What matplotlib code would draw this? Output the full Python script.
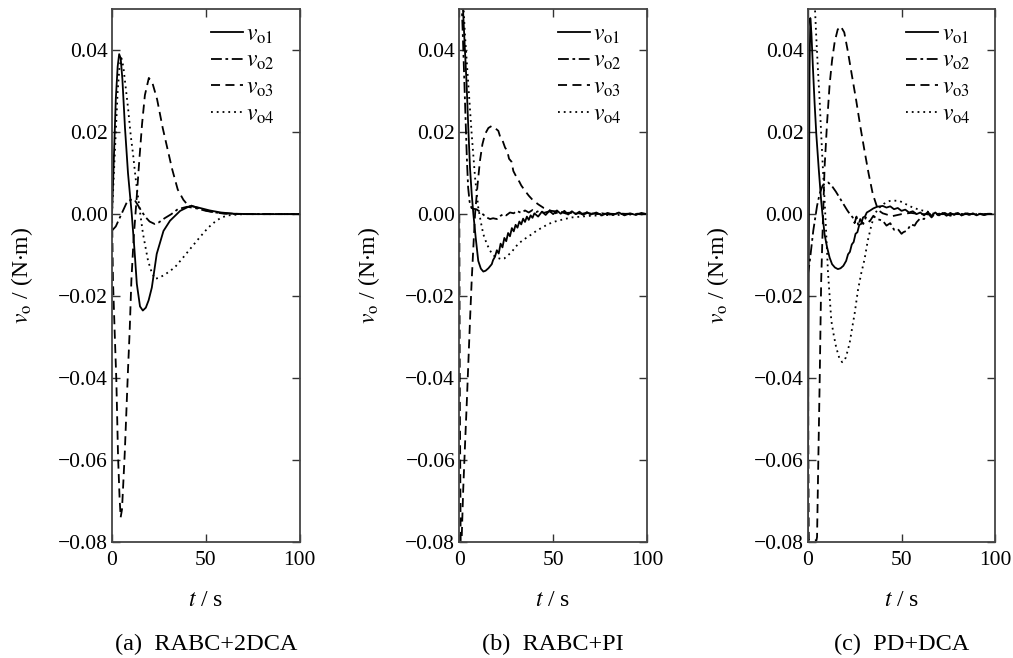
import numpy as np
import matplotlib
matplotlib.use('Agg')
import matplotlib.pyplot as plt

plt.rcParams['font.family'] = ['Liberation Serif', 'DejaVu Serif']
plt.rcParams['mathtext.fontset'] = 'stix'
plt.rcParams['axes.unicode_minus'] = True

# ---- (a) RABC+2DCA ----
ta1 = [0, 1, 2, 3, 3.8, 4.6, 5.5, 6.9, 8.5, 10.5, 12, 13.2, 14.9, 16.4, 18, 19.5, 21.2, 23.8, 27.4, 30.9, 36.3, 41.6, 46, 52, 58, 65, 75, 100]
va1 = [0, 0.014, 0.028, 0.036, 0.039, 0.038, 0.033, 0.021, 0.010, 0.0, -0.009, -0.017, -0.0225, -0.0235, -0.0228, -0.021, -0.0179, -0.0097, -0.0041, -0.0016, 0.0008, 0.002, 0.0016, 0.0009, 0.0004, 0.0001, 0, 0]
ta2 = [0, 2, 4, 6, 8, 10, 12, 14, 16, 18, 20, 22.7, 25, 28, 31.6, 35, 40, 45, 50, 55, 60, 70, 100]
va2 = [-0.004, -0.003, -0.001, 0.001, 0.003, 0.0035, 0.0035, 0.002, 0.0005, -0.0008, -0.0018, -0.0024, -0.002, -0.001, 0.0, 0.0012, 0.0018, 0.0014, 0.0008, 0.0004, 0.0002, 0, 0]
ta3 = [0, 0.5, 1.5, 2.3, 3.2, 4.0, 4.6, 5.3, 5.9, 6.8, 7.6, 8.5, 9.4, 10.3, 11.5, 13, 14.5, 16, 17.5, 19.6, 21.5, 24, 27, 29, 32, 35, 38, 40, 44, 50, 55, 60, 70, 100]
va3 = [0, -0.0162, -0.03, -0.0406, -0.059, -0.069, -0.0739, -0.072, -0.0665, -0.058, -0.0486, -0.038, -0.0284, -0.0162, -0.006, 0.0032, 0.013, 0.022, 0.029, 0.0332, 0.032, 0.028, 0.021, 0.017, 0.011, 0.006, 0.0035, 0.0024, 0.0018, 0.0009, 0.0004, 0.0001, 0, 0]
ta4 = [0, 1, 2, 3, 4, 5, 6, 7, 8.5, 10, 11.2, 12.5, 13.9, 15.2, 16.5, 17.8, 19.2, 21, 22.9, 25, 28, 33.4, 38, 42.3, 47, 51.2, 55, 58.3, 62, 70, 100]
va4 = [0, 0.01, 0.02, 0.03, 0.036, 0.038, 0.036, 0.032, 0.026, 0.019, 0.0146, 0.009, 0.004, -0.0005, -0.0048, -0.008, -0.0114, -0.014, -0.0158, -0.0155, -0.0148, -0.013, -0.0105, -0.0081, -0.0055, -0.0033, -0.0018, -0.0008, -0.0003, 0, 0]

# ---- (b) RABC+PI ----
tb1 = [0, 1, 2.1, 3, 3.9, 4.8, 5.7, 6.6, 7.5, 8.8, 10.1, 11.5, 12.8, 14, 15.5, 17.3, 18, 19, 20, 21, 22, 23, 24, 25, 26, 27, 28, 29, 30, 31, 32, 33, 34, 35, 36, 37, 38, 39, 40,
       42, 44, 46, 48, 50, 52, 54, 56, 58, 60, 62, 64, 66, 68, 70, 73, 76, 79, 82, 85, 88, 91, 94, 97, 100]
vb1 = [0.07, 0.06, 0.0487, 0.04, 0.0316, 0.021, 0.0113, 0.005, 0.0, -0.006, -0.0114, -0.0133, -0.014, -0.0138, -0.0132, -0.0122, -0.0112, -0.0104, -0.0088, -0.0096, -0.0072, -0.0081, -0.0058, -0.0066, -0.0046, -0.0054, -0.0034, -0.0042, -0.0026, -0.0033, -0.0018, -0.0025, -0.0011, -0.0019, -0.0006, -0.0014, -0.0003, -0.0009, 0.0002,
       -0.0006, 0.0006, -0.0002, 0.0008, 0.0, 0.0009, 0.0001, 0.0008, -0.0001, 0.0007, 0.0, 0.0006, -0.0002, 0.0005, -0.0001, 0.0004, -0.0003, 0.0003, -0.0002, 0.0004, -0.0003, 0.0002, -0.0002, 0.0003, 0.0]
tb2 = [0, 1, 2, 3, 4, 4.7, 5.5, 6.5, 7.5, 9, 11, 13, 14.5, 16.4, 18, 20, 22, 23.5, 25, 27, 29, 30.6, 33, 35, 37, 39, 41, 43, 45, 48, 51, 54, 57, 60, 64, 68, 72, 76, 80, 85, 90, 95, 100]
vb2 = [0.065, 0.055, 0.042, 0.028, 0.014, 0.0065, 0.003, 0.0015, 0.0013, 0.0012, 0.0006, -0.0002, -0.0008, -0.0012, -0.001, -0.0012, -0.0004, 0.0, -0.0003, 0.0004, 0.0002, 0.0008, 0.0003, 0.0009, 0.0004, 0.001, 0.0005, 0.0009, 0.0003, 0.0007, 0.0002, 0.0006, 0.0001, 0.0004, -0.0001, 0.0003, 0.0, 0.0002, -0.0001, 0.0002, 0.0, 0.0001, 0.0]
tb3 = [0, 0.3, 0.8, 1.3, 2.1, 3.0, 3.9, 4.8, 5.7, 6.6, 7.5, 8.4, 9.7, 11, 12.3, 13.7, 15.5, 17.3, 19, 20.8, 22, 23, 24.4, 25.5, 26.5, 27.8, 28.8, 29.7, 31, 32, 33, 35, 37, 39, 42, 45, 49, 53, 57, 61, 65, 70, 75, 80, 85, 90, 95, 100]
vb3 = [0, -0.045, -0.085, -0.0787, -0.067, -0.0568, -0.047, -0.0365, -0.026, -0.0162, -0.008, 0.0, 0.007, 0.013, 0.017, 0.0195, 0.021, 0.0215, 0.021, 0.0203, 0.0185, 0.018, 0.0162, 0.0155, 0.0135, 0.0128, 0.0105, 0.0097, 0.0086, 0.0079, 0.007, 0.0057, 0.0045, 0.0035, 0.0024, 0.0015, 0.0008, 0.0006, 0.0003, 0.0004, 0.0001, 0.0002, 0.0, 0.0001, 0.0, 0.0001, 0.0, 0.0]
tb4 = [0, 1, 2.1, 3.0, 4.8, 6.6, 8.4, 10.1, 11.5, 12.8, 14.6, 16.4, 18, 20, 22.6, 24, 26, 28, 29.7, 32, 35, 38.6, 41, 44, 47.5, 51, 56, 60, 65, 70, 75, 80, 85, 90, 95, 100]
vb4 = [0.075, 0.065, 0.052, 0.0438, 0.0316, 0.0195, 0.0089, 0.0016, -0.002, -0.0049, -0.0072, -0.0089, -0.0100, -0.0106, -0.011, -0.0108, -0.0100, -0.0092, -0.0081, -0.007, -0.006, -0.0049, -0.0041, -0.0033, -0.0024, -0.0018, -0.0012, -0.0008, -0.0006, -0.0004, -0.0003, -0.0002, -0.0002, -0.0001, -0.0001, 0.0]

# ---- (c) PD+DCA ----
tc1 = [0, 0.5, 1.0, 1.4, 2.0, 2.8, 3.7, 4.6, 5.9, 7.2, 8.1, 9.0, 10.3, 11.7, 13, 14.5, 16.1, 17.5, 19, 20.5, 21.5, 22.5, 23.5, 24.5, 25.5, 26.5, 27.5, 28.5, 29.5, 30.5, 31.5, 33, 35, 37, 40,
       42, 44, 46, 48, 50, 52, 54, 56, 58, 60, 62, 64, 66, 68, 70, 72, 74, 76, 78, 80, 82, 84, 86, 88, 90, 92, 94, 96, 98]
vc1 = [-0.09, -0.02, 0.035, 0.0478, 0.044, 0.0357, 0.027, 0.0195, 0.011, 0.0032, -0.001, -0.0049, -0.008, -0.0106, -0.0122, -0.013, -0.0134, -0.0132, -0.0126, -0.0114, -0.0098, -0.0092, -0.0074, -0.0068, -0.0048, -0.0044, -0.0026, -0.0024, -0.0008, -0.0006, 0.0004, 0.0008, 0.0014, 0.0018, 0.002,
       0.0016, 0.0019, 0.0012, 0.0015, 0.0008, 0.0011, 0.0004, 0.0007, 0.0, 0.0004, -0.0003, 0.0005, -0.0004, 0.0004, -0.0003, 0.0003, -0.0004, 0.0003, -0.0002, 0.0003, -0.0003, 0.0002, -0.0002, 0.0002, -0.0003, 0.0001, -0.0002, 0.0001, 0.0]
tc2 = [0, 1, 2, 3, 4, 5, 6.4, 8, 9.5, 11, 13, 15, 17, 19, 21, 22.5, 24, 25, 26, 27, 28, 29.6, 31, 33, 35, 37, 40, 42, 44, 46, 48, 50, 51, 53, 55, 57, 58, 60, 62, 64, 66, 68, 70, 73, 76, 79, 82, 85, 88, 91, 94, 97, 100]
vc2 = [-0.015, -0.012, -0.008, -0.004, -0.001, 0.002, 0.005, 0.007, 0.0075, 0.0077, 0.0068, 0.0055, 0.004, 0.0025, 0.001, 0.0, -0.0008, -0.0022, -0.0006, -0.0028, -0.0012, -0.0024, -0.0008, -0.0018, -0.0004, -0.0012, -0.0016, -0.0028, -0.0022, -0.0038, -0.0036, -0.0048, -0.0044, -0.004, -0.0025, -0.0028, -0.002, -0.001, -0.0012, 0.0002, -0.0008, 0.0002, -0.0004, 0.0003, -0.0004, 0.0002, -0.0003, 0.0002, -0.0002, 0.0001, -0.0002, 0.0001, 0.0]
tc3 = [0, 0.3, 0.6, 1, 2, 3, 4, 4.7, 5, 5.6, 6.4, 7.2, 8.1, 9, 10.3, 11.7, 13, 14.4, 16, 17.6, 19.5, 21.4, 23.5, 25.9, 28, 30.3, 32.5, 34.7, 37.5, 40, 45, 50, 55, 60, 70, 80, 90, 100]
vc3 = [0, -0.05, -0.0795, -0.0795, -0.0795, -0.0795, -0.0795, -0.0795, -0.0787, -0.062, -0.0406, -0.0162, -0.002, 0.0113, 0.022, 0.0316, 0.0375, 0.042, 0.045, 0.0458, 0.0443, 0.0397, 0.034, 0.0276, 0.0215, 0.0154, 0.0098, 0.0049, 0.001, 0.0002, -0.0005, 0.0, 0.0003, 0.0, 0.0, 0.0, 0.0, 0.0]
tc4 = [0, 1, 2, 3, 3.9, 4.6, 5.5, 6.4, 7.2, 8.1, 9, 9.9, 10.8, 11.7, 12.6, 13.9, 15.2, 16.8, 18.4, 20.3, 22.3, 23.6, 25, 26.8, 28.5, 30.3, 32, 33.8, 35.6, 38, 40.5, 43.6, 46, 49, 52, 56, 60, 64, 68, 72, 76, 80, 85, 90, 95, 100]
vc4 = [0.06, 0.075, 0.07, 0.058, 0.05, 0.043, 0.035, 0.0276, 0.0195, 0.0113, 0.0035, -0.0049, -0.014, -0.02, -0.026, -0.0295, -0.0325, -0.035, -0.0361, -0.035, -0.0316, -0.028, -0.0243, -0.0185, -0.0145, -0.011, -0.0065, -0.003, 0.0, 0.0015, 0.0025, 0.0032, 0.0033, 0.0032, 0.0025, 0.0016, 0.001, 0.0006, 0.0, 0.0002, -0.0001, 0.0001, 0.0, 0.0001, 0.0, 0.0]

panels = [
    ('(a)  RABC+2DCA', [(ta1, va1), (ta2, va2), (ta3, va3), (ta4, va4)]),
    ('(b)  RABC+PI', [(tb1, vb1), (tb2, vb2), (tb3, vb3), (tb4, vb4)]),
    ('(c)  PD+DCA', [(tc1, vc1), (tc2, vc2), (tc3, vc3), (tc4, vc4)]),
]
labels = [r'$v_{\mathrm{o1}}$', r'$v_{\mathrm{o2}}$', r'$v_{\mathrm{o3}}$', r'$v_{\mathrm{o4}}$']
styles = ['-', (0, (6, 2, 1.5, 2)), (0, (5, 3)), (0, (1, 2.2))]

fig = plt.figure(figsize=(10.13, 6.58), dpi=100)
lefts = [0.1106, 0.4534, 0.7973]
for (caption, series), left in zip(panels, lefts):
    ax = fig.add_axes([left, 0.1758, 0.1853, 0.8105])
    for (t, v), ls, lab in zip(series, styles, labels):
        ax.plot(t, v, color='black', linestyle=ls, lw=1.3, label=lab)
    ax.set_xlim(0, 100)
    ax.set_ylim(-0.08, 0.05)
    ax.set_xticks([0, 50, 100])
    ax.set_yticks([-0.08, -0.06, -0.04, -0.02, 0.0, 0.02, 0.04])
    ax.set_yticklabels(['\u22120.08', '\u22120.06', '\u22120.04', '\u22120.02', '0.00', '0.02', '0.04'])
    ax.tick_params(direction='in', top=True, right=True, length=6, width=1,
                   labelsize=15.5, colors='#333333', labelcolor='black')
    ax.tick_params(axis='x', pad=6)
    ax.tick_params(axis='y', pad=3)
    for sp in ax.spines.values():
        sp.set_color('#444444')
        sp.set_linewidth(1.3)
    ax.set_xlabel(r'$t$ / s', fontsize=17, labelpad=15)
    ax.set_ylabel(r'$v_{\mathrm{o}}$ / (N$\cdot$m)', fontsize=17)
    ax.yaxis.set_label_coords(-0.41, 0.5)
    ax.legend(loc='upper right', bbox_to_anchor=(0.905, 0.985), frameon=False, fontsize=17,
              handlelength=1.35, handletextpad=0.15, labelspacing=0.2, borderaxespad=0.0,
              borderpad=0.3)
    fig.text(left + 0.1853 / 2, 0.02, caption, ha='center', va='center', fontsize=17.5)

fig.savefig('out.png', dpi=100)
